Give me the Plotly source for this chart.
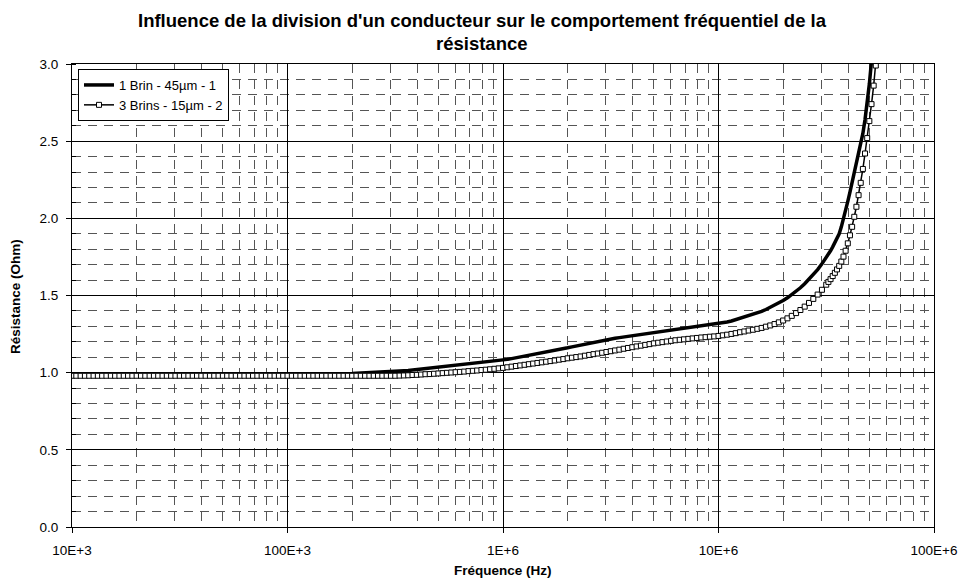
import plotly.graph_objects as go

# Frequencies (Hz)
freq_hz = [
    1.000e4, 1.047e4, 1.096e4, 1.148e4, 1.202e4, 1.259e4, 1.318e4, 1.380e4, 1.445e4, 1.514e4,
    1.585e4, 1.660e4, 1.738e4, 1.820e4, 1.905e4, 1.995e4, 2.089e4, 2.188e4, 2.291e4, 2.399e4,
    2.512e4, 2.630e4, 2.754e4, 2.884e4, 3.020e4, 3.162e4, 3.311e4, 3.467e4, 3.631e4, 3.802e4,
    3.981e4, 4.169e4, 4.365e4, 4.571e4, 4.786e4, 5.012e4, 5.248e4, 5.495e4, 5.754e4, 6.026e4,
    6.310e4, 6.607e4, 6.918e4, 7.244e4, 7.586e4, 7.943e4, 8.318e4, 8.710e4, 9.120e4, 9.550e4,
    1.000e5, 1.047e5, 1.096e5, 1.148e5, 1.202e5, 1.259e5, 1.318e5, 1.380e5, 1.445e5, 1.514e5,
    1.585e5, 1.660e5, 1.738e5, 1.820e5, 1.905e5, 1.995e5, 2.089e5, 2.188e5, 2.291e5, 2.399e5,
    2.512e5, 2.630e5, 2.754e5, 2.884e5, 3.020e5, 3.162e5, 3.311e5, 3.467e5, 3.631e5, 3.802e5,
    3.981e5, 4.169e5, 4.365e5, 4.571e5, 4.786e5, 5.012e5, 5.248e5, 5.495e5, 5.754e5, 6.026e5,
    6.310e5, 6.607e5, 6.918e5, 7.244e5, 7.586e5, 7.943e5, 8.318e5, 8.710e5, 9.120e5, 9.550e5,
    1.000e6, 1.047e6, 1.096e6, 1.148e6, 1.202e6, 1.259e6, 1.318e6, 1.380e6, 1.445e6, 1.514e6,
    1.585e6, 1.660e6, 1.738e6, 1.820e6, 1.905e6, 1.995e6, 2.089e6, 2.188e6, 2.291e6, 2.399e6,
    2.512e6, 2.630e6, 2.754e6, 2.884e6, 3.020e6, 3.162e6, 3.311e6, 3.467e6, 3.631e6, 3.802e6,
    3.981e6, 4.169e6, 4.365e6, 4.571e6, 4.786e6, 5.012e6, 5.248e6, 5.495e6, 5.754e6, 6.026e6,
    6.310e6, 6.607e6, 6.918e6, 7.244e6, 7.586e6, 7.943e6, 8.318e6, 8.710e6, 9.120e6, 9.550e6,
    1.000e7, 1.047e7, 1.096e7, 1.148e7, 1.202e7, 1.259e7, 1.318e7, 1.380e7, 1.445e7, 1.514e7,
    1.585e7, 1.660e7, 1.738e7, 1.820e7, 1.905e7, 1.995e7, 2.089e7, 2.188e7, 2.291e7, 2.399e7,
    2.512e7, 2.630e7, 2.754e7, 2.884e7, 3.020e7,
    3.162e7, 3.236e7, 3.311e7, 3.388e7, 3.467e7, 3.548e7, 3.631e7, 3.715e7, 3.802e7, 3.890e7,
    3.981e7, 4.074e7, 4.169e7, 4.266e7, 4.365e7, 4.467e7, 4.571e7, 4.677e7, 4.786e7, 4.898e7,
    5.012e7, 5.129e7, 5.248e7, 5.370e7, 5.495e7, 5.623e7, 5.754e7, 5.888e7, 6.026e7,
]

# Résistance (Ohm) - 1 Brin - 45µm
r_1brin = [
    0.990, 0.990, 0.990, 0.990, 0.990, 0.990, 0.990, 0.990, 0.990, 0.990,
    0.990, 0.990, 0.990, 0.990, 0.990, 0.990, 0.990, 0.990, 0.990, 0.990,
    0.990, 0.990, 0.990, 0.990, 0.990, 0.990, 0.990, 0.990, 0.990, 0.990,
    0.990, 0.990, 0.990, 0.990, 0.990, 0.990, 0.990, 0.990, 0.990, 0.990,
    0.990, 0.990, 0.990, 0.990, 0.990, 0.990, 0.990, 0.990, 0.990, 0.990,
    0.990, 0.990, 0.990, 0.990, 0.990, 0.990, 0.990, 0.990, 0.990, 0.990,
    0.990,
    0.991, 0.992, 0.993, 0.994, 0.995, 0.996, 0.997, 0.998, 0.999, 1.000,
    1.001, 1.003, 1.004, 1.006, 1.008, 1.010, 1.012, 1.014, 1.017, 1.020,
    1.022, 1.025, 1.028, 1.031, 1.034, 1.037, 1.040, 1.043, 1.046, 1.049,
    1.052, 1.055, 1.058, 1.061, 1.064, 1.067, 1.070, 1.073, 1.077,
    1.081, 1.086, 1.091, 1.096, 1.101, 1.106, 1.111, 1.116, 1.121, 1.126,
    1.131, 1.137, 1.143, 1.149, 1.155, 1.161, 1.167, 1.173, 1.179, 1.185,
    1.191, 1.198, 1.204, 1.209, 1.214, 1.219, 1.223, 1.227, 1.231, 1.235,
    1.239, 1.243, 1.247, 1.251, 1.255, 1.259, 1.263, 1.267, 1.271, 1.275,
    1.279, 1.283, 1.287, 1.291, 1.295, 1.299, 1.302, 1.305, 1.308, 1.311,
    1.315, 1.321, 1.328, 1.335, 1.343, 1.351, 1.359, 1.368, 1.377, 1.387,
    1.397, 1.409, 1.422, 1.436, 1.451, 1.467, 1.485, 1.505, 1.527, 1.550,
    1.576, 1.604, 1.635, 1.668, 1.705,
    1.745, 1.767, 1.790, 1.815, 1.842, 1.870, 1.900, 1.945, 1.995, 2.050,
    2.110, 2.170, 2.230, 2.290, 2.350, 2.410, 2.470, 2.550, 2.640, 2.740,
    2.870, 3.020, 3.200, 3.400, 3.620, 3.870, 4.150, 4.460, 4.800,
]

# Résistance (Ohm) - 3 Brins - 15µm
r_3brins = [
    0.980, 0.980, 0.980, 0.980, 0.980, 0.980, 0.980, 0.980, 0.980, 0.980,
    0.980, 0.980, 0.980, 0.980, 0.980, 0.980, 0.980, 0.980, 0.980, 0.980,
    0.980, 0.980, 0.980, 0.980, 0.980, 0.980, 0.980, 0.980, 0.980, 0.980,
    0.980, 0.980, 0.980, 0.980, 0.980, 0.980, 0.980, 0.980, 0.980, 0.980,
    0.980, 0.980, 0.980, 0.980, 0.980, 0.980, 0.980, 0.980, 0.980, 0.980,
    0.980, 0.980, 0.980, 0.980, 0.980, 0.980, 0.980, 0.980, 0.980, 0.980,
    0.980, 0.980, 0.980, 0.980, 0.980, 0.980, 0.980, 0.980, 0.980, 0.980,
    0.980, 0.980, 0.980, 0.980, 0.980,
    0.980, 0.981, 0.982, 0.983, 0.985, 0.986, 0.988, 0.990, 0.991, 0.993,
    0.995, 0.997, 0.999, 1.001, 1.003, 1.005, 1.007, 1.010, 1.012, 1.014,
    1.017, 1.019, 1.022, 1.025, 1.028,
    1.031, 1.035, 1.039, 1.043, 1.047, 1.051, 1.055, 1.059, 1.063, 1.067,
    1.071, 1.075, 1.079, 1.084, 1.088, 1.093, 1.097, 1.101, 1.105, 1.110,
    1.115, 1.120, 1.124, 1.129, 1.134, 1.139, 1.144, 1.149, 1.155, 1.160,
    1.165, 1.170, 1.175, 1.180, 1.185, 1.190, 1.194, 1.198, 1.202, 1.206,
    1.210, 1.213, 1.216, 1.219, 1.222, 1.225, 1.228, 1.230, 1.233, 1.235,
    1.238, 1.242, 1.246, 1.251, 1.256, 1.262, 1.267, 1.273, 1.278, 1.284,
    1.290, 1.298, 1.306, 1.315, 1.326, 1.338, 1.352, 1.368, 1.386, 1.406,
    1.428, 1.452, 1.478, 1.506, 1.537,
    1.570, 1.588, 1.606, 1.626, 1.647, 1.669, 1.692, 1.720, 1.752, 1.790,
    1.838, 1.890, 1.945, 2.010, 2.075, 2.150, 2.230, 2.320, 2.420, 2.520,
    2.630, 2.740, 2.860, 2.990, 3.130, 3.290, 3.470, 3.680, 3.920,
]

assert len(freq_hz) == len(r_1brin) == len(r_3brins), (len(freq_hz), len(r_1brin), len(r_3brins))

series_names = ["1 Brin - 45µm - 1", "3 Brins - 15µm - 2"]
x_tick_vals = [1e4, 1e5, 1e6, 1e7, 1e8]
x_tick_text = ["10E+3", "100E+3", "1E+6", "10E+6", "100E+6"]
x_minor_vals = [m * 10 ** d for d in range(4, 8) for m in range(2, 10)]

title_line1 = "Influence de la division d'un conducteur sur le comportement fréquentiel de la"
title_line2 = "résistance"
x_title = "Fréquence (Hz)"
y_title = "Résistance (Ohm)"

FONT = "Liberation Sans, Arial, sans-serif"

# The figure fills the 960x581 window (body margin removed below).
FIG_W, FIG_H = 960, 581
# plot area: x 72..934, y 64..527
PX0, PX1, PY0, PY1 = 72, 934, 64, 527
PW, PH = PX1 - PX0, PY1 - PY0


def px(x):
    return (x - PX0) / PW


def py(y):
    return (PY1 - y) / PH


fig = go.Figure()
fig.add_trace(go.Scatter(
    x=freq_hz, y=r_1brin, mode="lines", name=series_names[0],
    line=dict(color="black", width=3.5),
))
fig.add_trace(go.Scatter(
    x=freq_hz, y=r_3brins, mode="lines+markers", name=series_names[1],
    line=dict(color="black", width=1.5),
    marker=dict(symbol="square", size=5, color="white",
                line=dict(color="black", width=1)),
))

fig.update_layout(
    width=FIG_W, height=FIG_H,
    paper_bgcolor="white", plot_bgcolor="white",
    margin=dict(l=PX0, r=FIG_W - PX1, t=PY0, b=FIG_H - PY1, autoexpand=False),
    font=dict(family=FONT, color="black", size=13.5),
    showlegend=True,
    legend=dict(x=px(78), y=py(69), xanchor="left", yanchor="top",
                bgcolor="white", bordercolor="black", borderwidth=1,
                font=dict(size=13), itemwidth=30, tracegroupgap=0),
    annotations=[
        dict(text="<b>" + title_line1 + "</b>", xref="paper", yref="paper",
             x=px(482), y=py(20), xanchor="center", yanchor="middle",
             showarrow=False, font=dict(size=18.5)),
        dict(text="<b>" + title_line2 + "</b>", xref="paper", yref="paper",
             x=px(482), y=py(43), xanchor="center", yanchor="middle",
             showarrow=False, font=dict(size=18.5)),
        dict(text="<b>" + x_title + "</b>", xref="paper", yref="paper",
             x=px(503), y=py(570), xanchor="center", yanchor="middle",
             showarrow=False, font=dict(size=13.5)),
        dict(text="<b>" + y_title + "</b>", xref="paper", yref="paper",
             x=px(15), y=py(296), xanchor="center", yanchor="middle",
             textangle=-90, showarrow=False, font=dict(size=13.5)),
    ],
)

fig.update_xaxes(
    type="log", range=[4, 8], automargin=False,
    tickmode="array", tickvals=x_tick_vals, ticktext=x_tick_text,
    showgrid=True, gridcolor="black", gridwidth=1,
    showline=True, linecolor="black", linewidth=1, mirror=True,
    ticks="outside", ticklen=5, tickcolor="black", ticklabelstandoff=6,
    zeroline=False,
    minor=dict(tickmode="array", tickvals=x_minor_vals, showgrid=True,
               gridcolor="#555555", gridwidth=1, griddash="9px,7px", ticks=""),
)
fig.update_yaxes(
    range=[0, 3], automargin=False,
    tickmode="linear", tick0=0, dtick=0.5, tickformat=".1f",
    showgrid=True, gridcolor="black", gridwidth=1,
    showline=True, linecolor="black", linewidth=1, mirror=True,
    ticks="outside", ticklen=5, tickcolor="black", ticklabelstandoff=5,
    zeroline=False,
    minor=dict(dtick=0.1, showgrid=True, gridcolor="#555555", gridwidth=1,
               griddash="9px,7px", ticks="inside", ticklen=4, tickcolor="black"),
)

# remove the default page margin so the 960x581 figure fills the window exactly
fig.write_html(
    "out.html",
    config={"displayModeBar": False},
    post_script="document.body.style.margin='0';"
                "document.documentElement.style.overflow='hidden';"
                "document.body.style.overflow='hidden';",
)
